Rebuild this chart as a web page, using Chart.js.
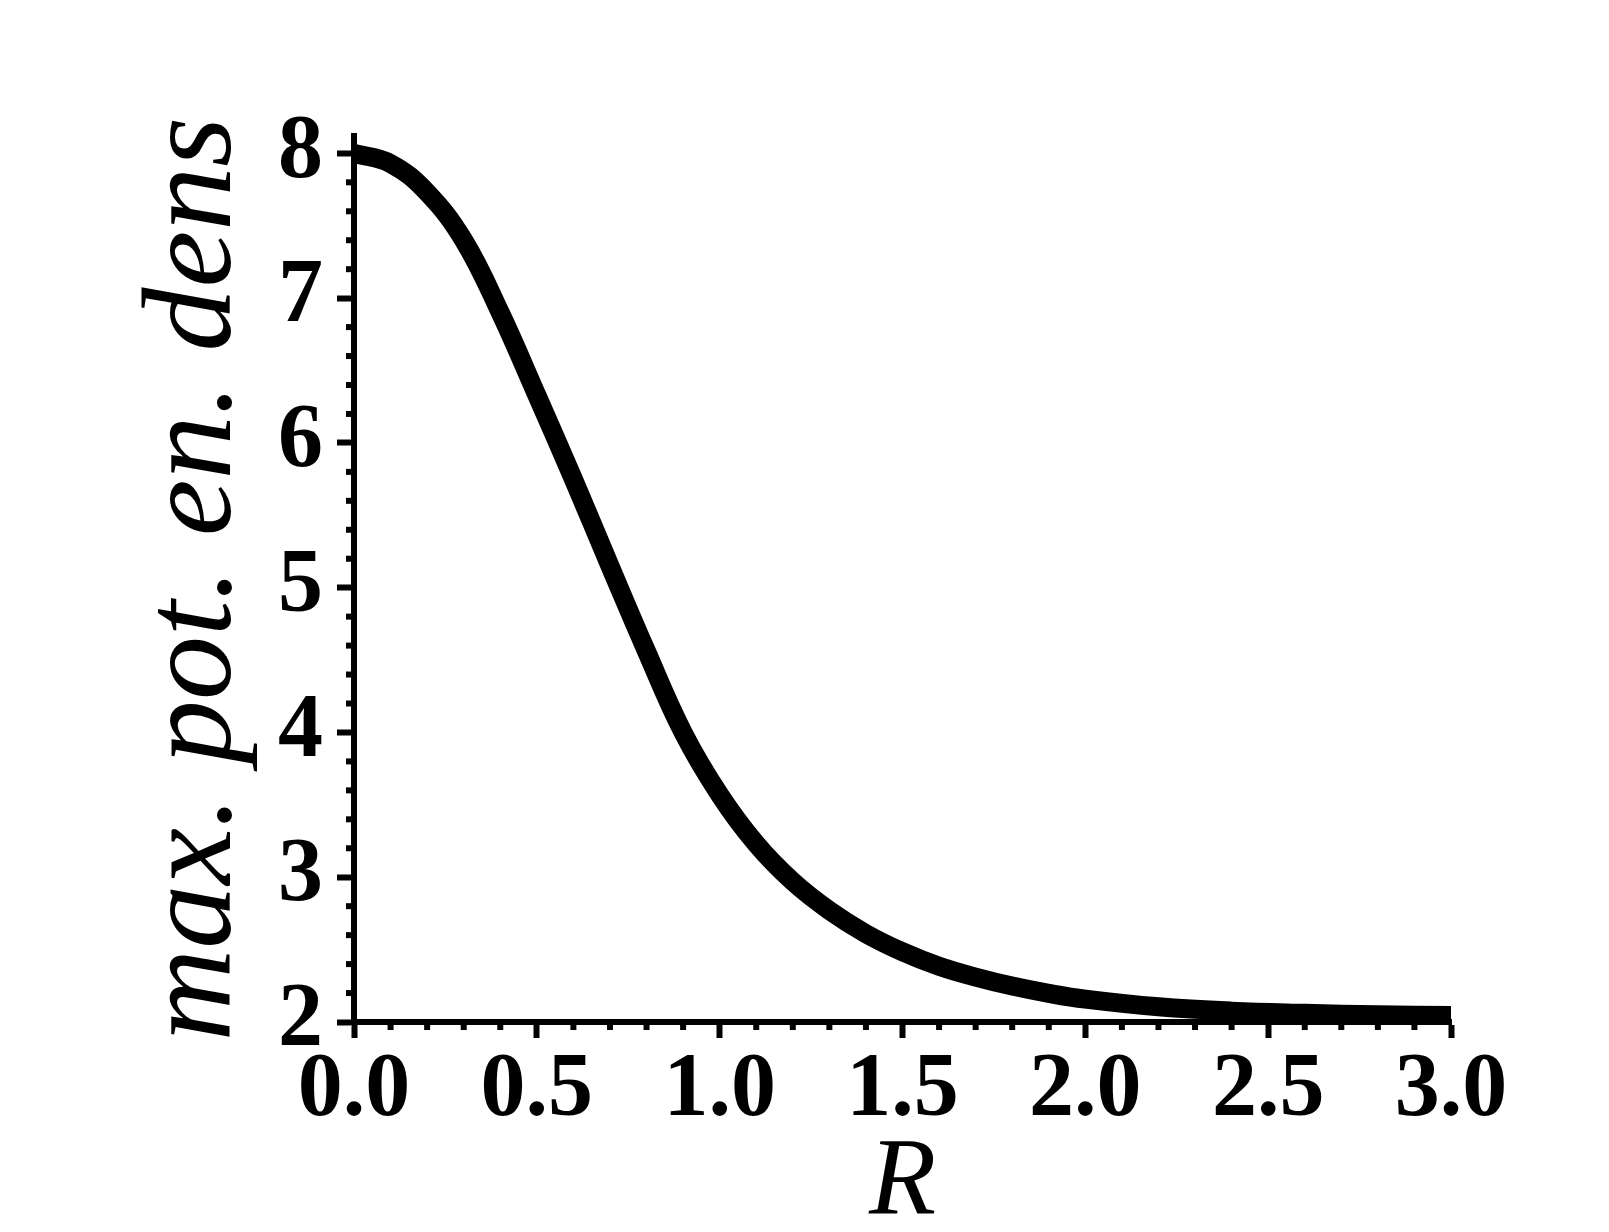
<!DOCTYPE html>
<html><head><meta charset="utf-8">
<script src="https://cdn.jsdelivr.net/npm/chart.js@4"></script>
<style>html,body{margin:0;padding:0;background:#fff}#wrap{width:1609px;height:1232px}</style>
</head><body>
<div id="wrap"><canvas id="c" width="1609" height="1232"></canvas></div>
<script>
// ---- data ----
const rValues    = [0, 0.1, 0.2, 0.3, 0.4, 0.5, 0.6, 0.7, 0.8, 0.9, 1.0, 1.1, 1.2, 1.3, 1.4, 1.5, 1.6, 1.7, 1.8, 1.9, 2.0, 2.2, 2.4, 2.6, 2.8, 3.0];
const densValues = [8.00, 7.93, 7.73, 7.40, 6.90, 6.33, 5.75, 5.15, 4.56, 4.00, 3.57, 3.23, 2.97, 2.77, 2.61, 2.485, 2.385, 2.31, 2.248, 2.198, 2.158, 2.105, 2.075, 2.06, 2.05, 2.045];
const xTickValues = [0.0, 0.5, 1.0, 1.5, 2.0, 2.5, 3.0];
const yTickValues = [2, 3, 4, 5, 6, 7, 8];
const xAxisTitle = 'R';
const yAxisTitle = 'max. pot. en. dens';

const xMin = 0, xMax = 3, yMin = 2, yMax = 8.12;
const xMinorDiv = 5, yMinorDiv = 5;
const SERIF = "'Liberation Serif', 'Times New Roman', Tinos, 'DejaVu Serif', serif";

const points = rValues.map((r, i) => ({x: r, y: densValues[i]}));

const minorTicksPlugin = {
  id: 'minorTicks',
  afterDraw(chart) {
    const ctx = chart.ctx, xs = chart.scales.x, ys = chart.scales.y;
    ctx.save();
    ctx.strokeStyle = '#000';
    ctx.lineWidth = 6;
    ctx.lineCap = 'butt';
    for (let i = 0; i < xTickValues.length - 1; i++) {
      const a = xTickValues[i], b = xTickValues[i + 1];
      for (let k = 1; k < xMinorDiv; k++) {
        const px = xs.getPixelForValue(a + (b - a) * k / xMinorDiv);
        ctx.beginPath(); ctx.moveTo(px, xs.top); ctx.lineTo(px, xs.top + 8); ctx.stroke();
      }
    }
    for (let i = 0; i < yTickValues.length - 1; i++) {
      const a = yTickValues[i], b = yTickValues[i + 1];
      for (let k = 1; k < yMinorDiv; k++) {
        const py = ys.getPixelForValue(a + (b - a) * k / yMinorDiv);
        ctx.beginPath(); ctx.moveTo(ys.right, py); ctx.lineTo(ys.right - 8, py); ctx.stroke();
      }
    }
    ctx.restore();
  }
};

new Chart(document.getElementById('c'), {
  type: 'line',
  data: {
    datasets: [{
      data: points,
      borderColor: '#000',
      borderWidth: 19,
      pointRadius: 0,
      fill: false,
      tension: 0.4,
      borderCapStyle: 'butt'
    }]
  },
  options: {
    responsive: false,
    animation: false,
    events: [],
    layout: {padding: {left: 120, top: 136, right: 158, bottom: 0}},
    plugins: {legend: {display: false}, tooltip: {enabled: false}},
    scales: {
      x: {
        type: 'linear', min: xMin, max: xMax,
        afterBuildTicks: s => { s.ticks = xTickValues.map(v => ({value: v})); },
        afterFit: s => { s.height = 210; },
        border: {display: true, color: '#000', width: 6},
        grid: {drawOnChartArea: false, drawTicks: true, tickLength: 16, tickWidth: 6, tickColor: '#000'},
        ticks: {
          color: '#000', padding: 0, maxRotation: 0, autoSkip: false,
          font: {family: SERIF, weight: 'bold', size: 90, lineHeight: 1.2},
          callback: v => Number(v).toFixed(1)
        },
        title: {
          display: true, text: xAxisTitle, color: '#000',
          font: {family: SERIF, style: 'italic', size: 110, lineHeight: 0.8},
          padding: {top: 0, bottom: 3}
        }
      },
      y: {
        type: 'linear', min: yMin, max: yMax,
        afterBuildTicks: s => { s.ticks = yTickValues.map(v => ({value: v})); },
        afterFit: s => { s.width = 234; },
        border: {display: true, color: '#000', width: 6},
        grid: {drawOnChartArea: false, drawTicks: true, tickLength: 17, tickWidth: 6, tickColor: '#000'},
        ticks: {
          color: '#000', padding: 14, autoSkip: false,
          font: {family: SERIF, weight: 'bold', size: 90, lineHeight: 1.2},
          callback: v => String(v)
        },
        title: {
          display: true, text: yAxisTitle, color: '#000',
          font: {family: SERIF, style: 'italic', size: 128, lineHeight: 1.2},
          padding: {top: 0, bottom: 0}
        }
      }
    }
  },
  plugins: [minorTicksPlugin]
});
</script>
</body></html>
